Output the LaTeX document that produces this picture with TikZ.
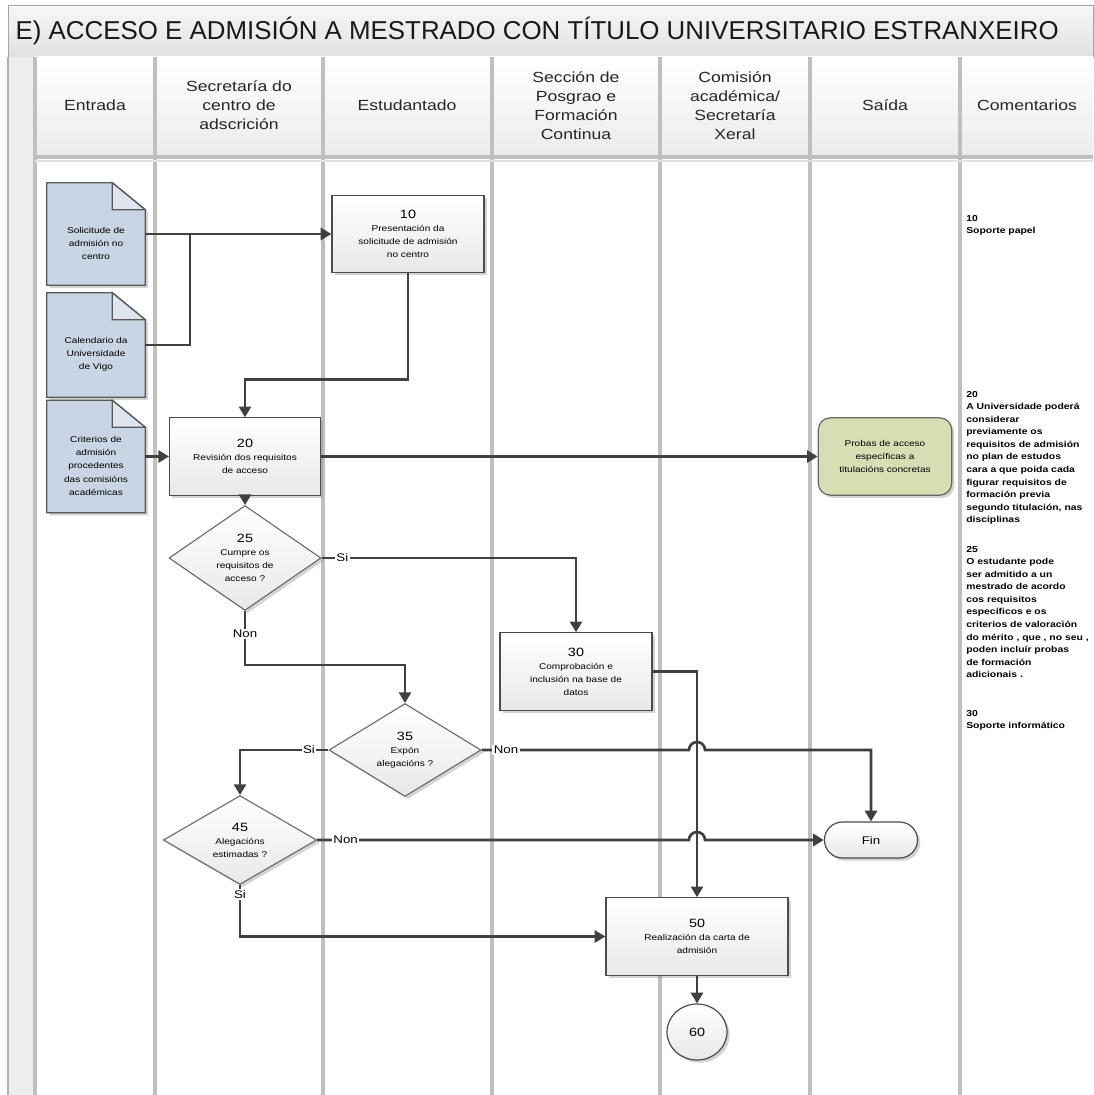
\documentclass[tikz,border=0pt]{standalone}
\usepackage{fontspec}
\setmainfont{Liberation Sans}
\newfontfamily\szeroki[FakeStretch=1.2]{Liberation Sans}
\usepackage{xcolor}
\usepackage{tikz}
\usetikzlibrary{calc, shapes, shapes.geometric, shapes.misc, arrows.meta, backgrounds, shadows, positioning}

\definecolor{dokniebieski}{HTML}{C9D5E4}
\definecolor{zagiecie}{HTML}{DDE5EF}
\definecolor{oliwka}{HTML}{D7DEB4}
\definecolor{linie}{HTML}{404040}
\newcommand\malyfont{\szeroki\fontsize{6.3}{9.8}\selectfont}
\newcommand\numfont{\szeroki\fontsize{9}{11}\selectfont}
\newcommand\naglfont{\szeroki\fontsize{11}{14.3}\selectfont}
\newcommand\komfont{\szeroki\bfseries\fontsize{6.5}{9.4}\selectfont}
\newcommand\etykfont{\szeroki\fontsize{8.3}{9}\selectfont}

\begin{document}
\begin{tikzpicture}[x=0.75pt, y=-0.75pt,
  linia/.style={draw=linie, line width=2pt},
  strz/.style={linia, -{Triangle[length=8pt,width=9pt]}},
  cien/.style={drop shadow={opacity=0.35, shadow xshift=2pt, shadow yshift=-2pt}},
  zadanie/.style={draw=black!70, line width=0.9pt, top color=white, bottom color=black!9, minimum height=58pt, align=center, inner sep=1pt, font=\malyfont, cien},
  decyzja/.style={diamond, draw=black!60, line width=0.8pt, top color=white, bottom color=black!9, minimum width=114pt, minimum height=60pt, inner sep=0pt, align=center, font=\malyfont, cien},
  dok/.style={minimum width=73.5pt, align=center, inner sep=1pt, font=\malyfont},
  dokrys/.style={fill=dokniebieski, draw=black!65, line width=1pt, cien},
  zgiecie/.style={fill=zagiecie, draw=black!65, line width=1pt},
  naglowek/.style={align=center, font=\naglfont, text=black!85},
  komentarz/.style={anchor=north west, align=left, font=\komfont, inner sep=0pt},
  etyk/.style={fill=white, inner sep=1pt, font=\etykfont}]
\useasboundingbox (0,0) rectangle (1093,1095);

% tory
\shade[top color=black!3, bottom color=black!12, draw=black!35] (8,5) rectangle (1093,57);
\shade[top color=white, bottom color=black!8] (35,57) rectangle (1093,157);
\fill[black!7] (8,57) rectangle (35,1095);
\draw[black!30, line width=1pt] (8,57) -- (8,1095);
\foreach \x in {35,155,323,492,660,810,960}
  \draw[black!25, line width=2.5pt] (\x,57) -- (\x,1095);
\draw[black!25, line width=2.5pt] (35,157) -- (1093,157);
\draw[black!12, line width=1pt] (35,161) -- (1093,161);

\node[anchor=west, font=\fontsize{19.4}{22}\selectfont, text=black!90] (tytul) at (11,31)
  {E) ACCESO E ADMISIÓN A MESTRADO CON TÍTULO UNIVERSITARIO ESTRANXEIRO};
\node[naglowek] (h1) at (95,105) {Entrada};
\node[naglowek] (h2) at (239,105) {Secretaría do\\ centro de\\ adscrición};
\node[naglowek] (h3) at (407,105) {Estudantado};
\node[naglowek] (h4) at (576,106) {Sección de\\ Posgrao e\\ Formación\\ Continua};
\node[naglowek] (h5) at (735,106) {Comisión\\ académica/\\ Secretaría\\ Xeral};
\node[naglowek] (h6) at (885,105) {Saída};
\node[naglowek] (h7) at (1027,105) {Comentarios};

% entradas
\node[dok, minimum height=76.5pt] (dok1) at (96,234) {\mbox{}\\[9pt]Solicitude de\\ admisión no\\ centro};
\node[dok, minimum height=78pt] (dok2) at (96,345) {\mbox{}\\[9pt]Calendario da\\ Universidade\\ de Vigo};
\node[dok, minimum height=84pt] (dok3) at (96,456.5) {\mbox{}\\[9pt]Criterios de\\ admisión\\ procedentes\\ das comisións\\ académicas};
\begin{scope}[on background layer]
\foreach \d in {dok1,dok2,dok3}{
  \filldraw[dokrys] (\d.north west) -- ($(\d.north east)+(-33,0)$) -- ($(\d.north east)+(0,27)$) -- (\d.south east) -- (\d.south west) -- cycle;
  \filldraw[zgiecie] ($(\d.north east)+(-33,0)$) -- ($(\d.north east)+(-33,27)$) -- ($(\d.north east)+(0,27)$) -- cycle;
}
\end{scope}

% tarefas
\node[zadanie, minimum width=114pt] (z10) at (408,234)
  {{\numfont 10}\\ Presentación da\\ solicitude de admisión\\ no centro};
\node[zadanie, minimum width=113pt] (z20) at (245,456.5)
  {{\numfont 20}\\ Revisión dos requisitos\\ de acceso};
\node[decyzja] (d25) at (245,558)
  {{\numfont 25}\\ Cumpre os\\ requisitos de\\ acceso ?};
\node[zadanie, minimum width=114pt] (z30) at (576,671.5)
  {{\numfont 30}\\ Comprobación e\\ inclusión na base de\\ datos};
\node[decyzja] (d35) at (405,750)
  {{\numfont 35}\\ Expón\\ alegacións ?};
\node[decyzja, minimum width=115pt] (d45) at (240,840)
  {{\numfont 45}\\ Alegacións\\ estimadas ?};
\node[zadanie, minimum width=136.5pt] (z50) at (697,936.5)
  {{\numfont 50}\\ Realización da carta de\\ admisión};
\node[ellipse, draw=black!70, line width=0.9pt, top color=white, bottom color=black!9, minimum width=45pt, minimum height=42pt, font=\numfont, cien] (c60) at (697,1032) {60};
\node[rectangle, rounded corners=9pt, draw=black!60, line width=0.9pt, fill=oliwka, minimum width=100pt, minimum height=58pt, align=center, font=\malyfont, cien] (probas) at (885,456.5)
  {Probas de acceso\\ específicas a\\ titulacións concretas};
\node[rounded rectangle, draw=black!70, line width=0.9pt, top color=white, bottom color=black!9, minimum width=76.5pt, minimum height=27pt, font=\etykfont, cien] (fin) at (871,840) {Fin};

% conexions
\coordinate (w1) at (190,234);
\draw[strz] (dok1.east) -- (z10.west);
\draw[linia] (dok2.east) -| (w1);
\draw[strz] (z10.south) |- ($(z20.north)+(0,-38)$) -| (z20.north);
\draw[strz] (dok3.east) -- (z20.west);
\draw[strz] (z20.east) -- (probas.west);
\draw[strz] (z20.south) -- (d25.north);
\draw[strz] (d25.east) -| (z30.north);
\draw[strz] (d25.south) |- ($(d35.north)+(0,-38)$) -| (d35.north);
\draw[strz] (z30.east) -| (z50.north);
\draw[strz] (d35.west) -| (d45.north);
\coordinate (s1) at (d35.east -| z50.north);
\coordinate (s2) at (d45.east -| z50.north);
\draw[strz] (d35.east) -- ($(s1)+(-8,0)$) arc[start angle=180, end angle=0, radius=6pt] -| (fin.north);
\draw[strz] (d45.east) -- ($(s2)+(-8,0)$) arc[start angle=180, end angle=0, radius=6pt] -- (fin.west);
\draw[strz] (d45.south) |- (z50.west);
\draw[strz] (z50.south) -- (c60.north);

\node[etyk, right=10pt of d25.east] (e1) {Si};
\node[etyk, below=13pt of d25.south] (e2) {Non};
\node[etyk, left=9pt of d35.west] (e3) {Si};
\node[etyk, right=8pt of d35.east] (e4) {Non};
\node[etyk, right=11pt of d45.east] (e5) {Non};
\node[etyk, below=3pt of d45.south] (e6) {Si};

% comentarios
\node[komentarz] (k10) at (966,215) {10\\ Soporte papel};
\node[komentarz] (k20) at (966,391) {20\\ A Universidade poderá\\ considerar\\ previamente os\\ requisitos de admisión\\ no plan de estudos\\ cara a que poida cada\\ figurar requisitos de\\ formación previa\\ segundo titulación, nas\\ disciplinas};
\node[komentarz] (k25) at (966,546) {25\\ O estudante pode\\ ser admitido a un\\ mestrado de acordo\\ cos requisitos\\ específicos e os\\ criterios de valoración\\ do mérito , que , no seu ,\\ poden incluír probas\\ de formación\\ adicionais .};
\node[komentarz] (k30) at (966,710) {30\\ Soporte informático};
\end{tikzpicture}
\end{document}
